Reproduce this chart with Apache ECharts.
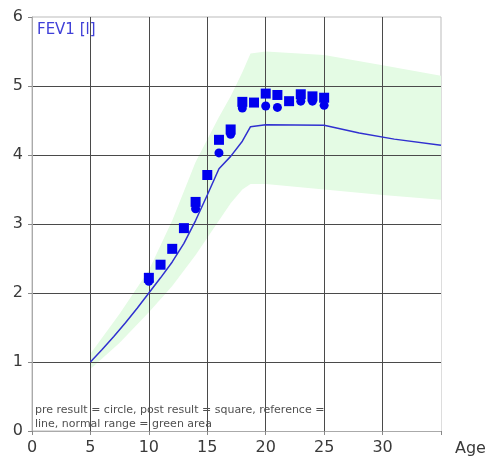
<!DOCTYPE html>
<html>
<head>
<meta charset="utf-8">
<script src="https://cdn.jsdelivr.net/npm/echarts@6/dist/echarts.min.js"></script>
<style>
  html, body { margin: 0; padding: 0; background: #fff; }
  #chart { width: 490px; height: 461px; }
</style>
</head>
<body>
<div id="chart"></div>
<script>
// ===== data =====
const bandAges = [5, 7.5, 10, 12, 14, 16, 17, 18, 18.7, 20, 25, 30, 35]
const bandLower = [0.9, 1.28, 1.72, 2.1, 2.55, 3.05, 3.3, 3.5, 3.58, 3.58, 3.5, 3.42, 3.35]
const bandUpper = [1.12, 1.7, 2.33, 3.05, 3.9, 4.55, 4.85, 5.2, 5.47, 5.5, 5.45, 5.3, 5.15]

const refAges = [5, 6, 7, 8, 9, 10, 11, 12, 13, 14, 15, 16, 17, 18, 18.7, 20, 25, 28, 31, 35]
const refValues = [1.0, 1.18, 1.37, 1.57, 1.78, 2.0, 2.22, 2.45, 2.72, 3.05, 3.42, 3.8, 3.98, 4.2, 4.41, 4.44, 4.43, 4.32, 4.23, 4.14]

const postAges = [10, 11, 12, 13, 14, 15, 16, 17, 18, 19, 20, 21, 22, 23, 24, 25]
const postValues = [2.22, 2.41, 2.64, 2.94, 3.32, 3.71, 4.22, 4.37, 4.77, 4.76, 4.89, 4.87, 4.78, 4.88, 4.85, 4.83]

const preAges = [10, 14, 16, 17, 18, 20, 21, 23, 24, 25]
const preValues = [2.17, 3.22, 4.03, 4.3, 4.68, 4.71, 4.69, 4.78, 4.78, 4.72]

const xTicks = [0, 5, 10, 15, 20, 25, 30]

const zip = (xs, ys) => xs.map((x, i) => [x, ys[i]])

const chart = echarts.init(document.getElementById('chart'))

const labelFont = { color: '#3a3a3a', fontFamily: 'DejaVu Sans', fontSize: 16 }

const axisCommon = {
  z: 3,
  axisLine: { show: true, lineStyle: { color: '#aaa', width: 1 } },
  axisTick: { show: true, length: 4, lineStyle: { color: '#888' } },
  splitLine: {
    show: true,
    showMinLine: false,
    showMaxLine: false,
    lineStyle: { color: '#4a4a4a', width: 1 }
  }
}

// band: green area up to the upper limit, covered by white below the lower limit
chart.setOption({
  animation: false,
  grid: {
    left: 32, right: 49, top: 17, bottom: 30,
    show: true, borderColor: '#bbb', borderWidth: 1, backgroundColor: 'transparent'
  },
  xAxis: {
    ...axisCommon,
    type: 'value',
    min: 0, max: 35, interval: 5,
    name: 'Age',
    nameLocation: 'end',
    nameGap: 14,
    nameTextStyle: { ...labelFont, verticalAlign: 'top', padding: [10, 0, 0, 0] },
    axisLabel: {
      ...labelFont,
      margin: 9,
      formatter: v => (xTicks.includes(v) ? String(v) : '')
    }
  },
  yAxis: {
    ...axisCommon,
    type: 'value',
    min: 0, max: 6, interval: 1,
    axisLabel: { ...labelFont, margin: 9 }
  },
  graphic: [
    {
      type: 'text', left: 37, top: 23, z: 10,
      style: { text: 'FEV1 [l]', fill: '#4040d8', font: '15px "DejaVu Sans"' }
    },
    {
      type: 'text', left: 35, top: 403, z: 10,
      style: {
        text: 'pre result = circle, post result = square, reference =\nline, normal range = green area',
        fill: '#505050', font: '11px "DejaVu Sans"', lineHeight: 14
      }
    }
  ],
  series: [
    {
      name: 'upper',
      type: 'line',
      data: zip(bandAges, bandUpper),
      symbol: 'none',
      lineStyle: { opacity: 0 },
      areaStyle: { color: '#e4fbe4', opacity: 1, origin: 'start' },
      silent: true,
      z: 1
    },
    {
      name: 'lower',
      type: 'line',
      data: zip(bandAges, bandLower),
      symbol: 'none',
      lineStyle: { opacity: 0 },
      areaStyle: { color: '#ffffff', opacity: 1, origin: 'start' },
      silent: true,
      z: 1
    },
    {
      name: 'reference',
      type: 'line',
      data: zip(refAges, refValues),
      symbol: 'none',
      lineStyle: { color: '#3030d0', width: 1.5 },
      z: 4
    },
    {
      name: 'post',
      type: 'scatter',
      data: zip(postAges, postValues),
      symbol: 'rect',
      symbolSize: 10,
      itemStyle: { color: '#0000ee', opacity: 1 },
      z: 5
    },
    {
      name: 'pre',
      type: 'scatter',
      data: zip(preAges, preValues),
      symbol: 'circle',
      symbolSize: 9,
      itemStyle: { color: '#0000ee', opacity: 1 },
      z: 5
    }
  ]
})
</script>
</body>
</html>
